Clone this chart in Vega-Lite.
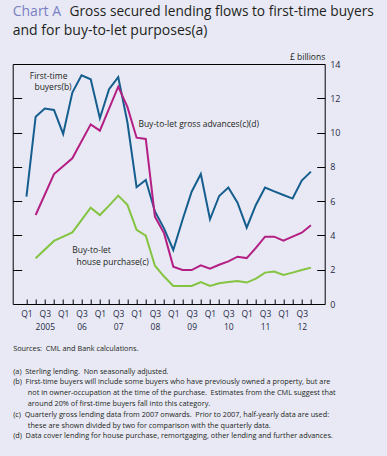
{
  "$schema": "https://vega.github.io/schema/vega-lite/v6.json",
  "width": 312,
  "height": 240,
  "autosize": {"type": "none"},
  "padding": {"left": 12.7, "top": 64, "right": 62.3, "bottom": 152},
  "background": "#e8e9f5",
  "title": {
    "text": "Chart A",
    "subtitle": "and for buy-to-let purposes(a)",
    "anchor": "start",
    "frame": "group",
    "color": "#7b80c4",
    "font": "Open Sans",
    "fontSize": 14,
    "fontWeight": "normal",
    "subtitleFont": "Open Sans",
    "subtitleFontSize": 14,
    "subtitleColor": "#231f20",
    "subtitlePadding": 5,
    "offset": 0,
    "dy": 33
  },
  "config": {
    "view": {"stroke": "#000", "strokeWidth": 1},
    "font": "Open Sans",
    "axis": {"domain": false, "grid": false}
  },
  "resolve": {"axis": {"x": "independent", "y": "independent"}},
  "datasets": {
    "series": [
      {"s": "ftb", "q": 0, "v": 6.26}, {"s": "ftb", "q": 1, "v": 10.93}, {"s": "ftb", "q": 2, "v": 11.4}, {"s": "ftb", "q": 3, "v": 11.32},
      {"s": "ftb", "q": 4, "v": 9.92}, {"s": "ftb", "q": 5, "v": 12.33}, {"s": "ftb", "q": 6, "v": 13.34}, {"s": "ftb", "q": 7, "v": 13.11},
      {"s": "ftb", "q": 8, "v": 10.83}, {"s": "ftb", "q": 9, "v": 12.53}, {"s": "ftb", "q": 10, "v": 13.24}, {"s": "ftb", "q": 11, "v": 10.6},
      {"s": "ftb", "q": 12, "v": 6.81}, {"s": "ftb", "q": 13, "v": 7.23}, {"s": "ftb", "q": 14, "v": 5.4}, {"s": "ftb", "q": 15, "v": 4.4},
      {"s": "ftb", "q": 16, "v": 3.15}, {"s": "ftb", "q": 17, "v": 4.9}, {"s": "ftb", "q": 18, "v": 6.55}, {"s": "ftb", "q": 19, "v": 7.58},
      {"s": "ftb", "q": 20, "v": 4.94}, {"s": "ftb", "q": 21, "v": 6.3}, {"s": "ftb", "q": 22, "v": 6.79}, {"s": "ftb", "q": 23, "v": 5.91},
      {"s": "ftb", "q": 24, "v": 4.45}, {"s": "ftb", "q": 25, "v": 5.78}, {"s": "ftb", "q": 26, "v": 6.79}, {"s": "ftb", "q": 27, "v": 6.57},
      {"s": "ftb", "q": 28, "v": 6.36}, {"s": "ftb", "q": 29, "v": 6.15}, {"s": "ftb", "q": 30, "v": 7.2}, {"s": "ftb", "q": 31, "v": 7.72},
      {"s": "btl", "q": 1, "v": 5.19}, {"s": "btl", "q": 3, "v": 7.58}, {"s": "btl", "q": 5, "v": 8.5}, {"s": "btl", "q": 7, "v": 10.48},
      {"s": "btl", "q": 8, "v": 10.11}, {"s": "btl", "q": 9, "v": 11.4}, {"s": "btl", "q": 10, "v": 12.68}, {"s": "btl", "q": 11, "v": 11.5},
      {"s": "btl", "q": 12, "v": 9.7}, {"s": "btl", "q": 13, "v": 9.63}, {"s": "btl", "q": 14, "v": 5.1}, {"s": "btl", "q": 15, "v": 4.12},
      {"s": "btl", "q": 16, "v": 2.18}, {"s": "btl", "q": 17, "v": 1.98}, {"s": "btl", "q": 18, "v": 1.98}, {"s": "btl", "q": 19, "v": 2.26},
      {"s": "btl", "q": 20, "v": 2.06}, {"s": "btl", "q": 21, "v": 2.29}, {"s": "btl", "q": 22, "v": 2.49}, {"s": "btl", "q": 23, "v": 2.76},
      {"s": "btl", "q": 24, "v": 2.68}, {"s": "btl", "q": 25, "v": 3.27}, {"s": "btl", "q": 26, "v": 3.93}, {"s": "btl", "q": 27, "v": 3.93},
      {"s": "btl", "q": 28, "v": 3.69}, {"s": "btl", "q": 29, "v": 3.93}, {"s": "btl", "q": 30, "v": 4.16}, {"s": "btl", "q": 31, "v": 4.59},
      {"s": "hp", "q": 1, "v": 2.67}, {"s": "hp", "q": 3, "v": 3.68}, {"s": "hp", "q": 5, "v": 4.18}, {"s": "hp", "q": 7, "v": 5.62},
      {"s": "hp", "q": 8, "v": 5.19}, {"s": "hp", "q": 9, "v": 5.74}, {"s": "hp", "q": 10, "v": 6.32}, {"s": "hp", "q": 11, "v": 5.78},
      {"s": "hp", "q": 12, "v": 4.32}, {"s": "hp", "q": 13, "v": 3.99}, {"s": "hp", "q": 14, "v": 2.23}, {"s": "hp", "q": 15, "v": 1.6},
      {"s": "hp", "q": 16, "v": 1.05}, {"s": "hp", "q": 17, "v": 1.05}, {"s": "hp", "q": 18, "v": 1.05}, {"s": "hp", "q": 19, "v": 1.28},
      {"s": "hp", "q": 20, "v": 1.05}, {"s": "hp", "q": 21, "v": 1.21}, {"s": "hp", "q": 22, "v": 1.28}, {"s": "hp", "q": 23, "v": 1.34},
      {"s": "hp", "q": 24, "v": 1.25}, {"s": "hp", "q": 25, "v": 1.48}, {"s": "hp", "q": 26, "v": 1.83}, {"s": "hp", "q": 27, "v": 1.89},
      {"s": "hp", "q": 28, "v": 1.69}, {"s": "hp", "q": 29, "v": 1.83}, {"s": "hp", "q": 30, "v": 1.98}, {"s": "hp", "q": 31, "v": 2.12}
    ],
    "labels": [
      {"t": "First-time", "q": 0.36, "v": 13.32},
      {"t": "buyers(b)", "q": 0.87, "v": 12.68},
      {"t": "Buy-to-let gross advances(c)(d)", "q": 12.2, "v": 10.5},
      {"t": "Buy-to-let", "q": 5.0, "v": 3.15},
      {"t": "house purchase(c)", "q": 5.45, "v": 2.47}
    ]
  },
  "layer": [
    {
      "data": {"name": "series"},
      "mark": {"type": "line", "strokeWidth": 2},
      "encoding": {
        "x": {
          "field": "q", "type": "quantitative",
          "scale": {"domain": [-1.5, 32.5], "nice": false, "zero": false},
          "axis": {
            "orient": "bottom",
            "values": [0,1,2,3,4,5,6,7,8,9,10,11,12,13,14,15,16,17,18,19,20,21,22,23,24,25,26,27,28,29,30,31],
            "tickSize": -5,
            "tickColor": "#000",
            "encode": {"ticks": {"update": {"y2": {"signal": "datum.value % 4 == 0 ? -9 : -5"}}}},
            "labelExpr": "datum.value % 4 == 0 ? 'Q1' : (datum.value % 4 == 2 ? ['Q3', datum.value == 2 ? '2005' : ((floor(datum.value / 4) + 5) < 10 ? '0' + (floor(datum.value / 4) + 5) : '' + (floor(datum.value / 4) + 5))] : '')",
            "labelOverlap": false,
            "labelFlush": false,
            "labelFontSize": 8.5,
            "labelColor": "#1f2a44",
            "labelPadding": 10,
            "labelBaseline": "top",
            "labelLineHeight": 13,
            "title": [
              "(a)\u2002Sterling lending.\u2002Non seasonally adjusted.",
              "(b)\u2002First-time buyers will include some buyers who have previously owned a property, but are",
              "\u200b\u2003\u2003not in owner-occupation at the time of the purchase.\u2002Estimates from the CML suggest that",
              "\u200b\u2003\u2003around 20% of first-time buyers fall into this category.",
              "(c)\u2002Quarterly gross lending data from 2007 onwards.\u2002Prior to 2007, half-yearly data are used:",
              "\u200b\u2003\u2003these are shown divided by two for comparison with the quarterly data.",
              "(d)\u2002Data cover lending for house purchase, remortgaging, other lending and further advances."
            ],
            "titleX": 0,
            "titleY": 63,
            "titleAnchor": "start",
            "titleAlign": "left",
            "titleBaseline": "top",
            "titleFontSize": 7.3,
            "titleFontWeight": "normal",
            "titleLineHeight": 10.8,
            "titleColor": "#231f20"
          }
        },
        "y": {
          "field": "v", "type": "quantitative",
          "scale": {"domain": [0, 14], "nice": false},
          "axis": {
            "orient": "right",
            "values": [0, 2, 4, 6, 8, 10, 12, 14],
            "tickSize": -8,
            "tickColor": "#000",
            "labelFontSize": 9,
            "labelPadding": 13,
            "labelColor": "#1f2a44",
            "title": "£ billions",
            "titleAngle": 0,
            "titleAlign": "right",
            "titleBaseline": "alphabetic",
            "titleX": 0,
            "titleY": -5,
            "titleFontSize": 8.5,
            "titleFontWeight": "normal",
            "titleColor": "#231f20"
          }
        },
        "color": {
          "field": "s", "type": "nominal",
          "scale": {"domain": ["hp", "btl", "ftb"], "range": ["#84c441", "#b41f84", "#155e8e"]},
          "legend": null
        }
      }
    },
    {
      "data": {"name": "labels"},
      "mark": {"type": "text", "align": "left", "baseline": "middle", "fontSize": 8.5, "color": "#231f20"},
      "encoding": {
        "x": {
          "field": "q", "type": "quantitative",
          "axis": {
            "orient": "top",
            "ticks": false,
            "labels": false,
            "title": "Sources:\u2002CML and Bank calculations.",
            "titleX": 0,
            "titleY": 280,
            "titleAnchor": "start",
            "titleAlign": "left",
            "titleBaseline": "top",
            "titleAngle": 0,
            "titleFontSize": 7.3,
            "titleFontWeight": "normal",
            "titleColor": "#231f20"
          }
        },
        "y": {
          "field": "v", "type": "quantitative",
          "axis": {
            "orient": "left",
            "values": [2, 4, 6, 8, 10, 12],
            "tickSize": -9,
            "tickColor": "#000",
            "labels": false,
            "title": "Gross secured lending flows to first-time buyers",
            "titleAngle": 0,
            "titleAlign": "left",
            "titleBaseline": "alphabetic",
            "titleAnchor": "start",
            "titleX": 56.3,
            "titleY": -48.3,
            "titleFontSize": 13.7,
            "titleFontWeight": "normal",
            "titleColor": "#231f20"
          }
        },
        "text": {"field": "t"}
      }
    }
  ]
}
